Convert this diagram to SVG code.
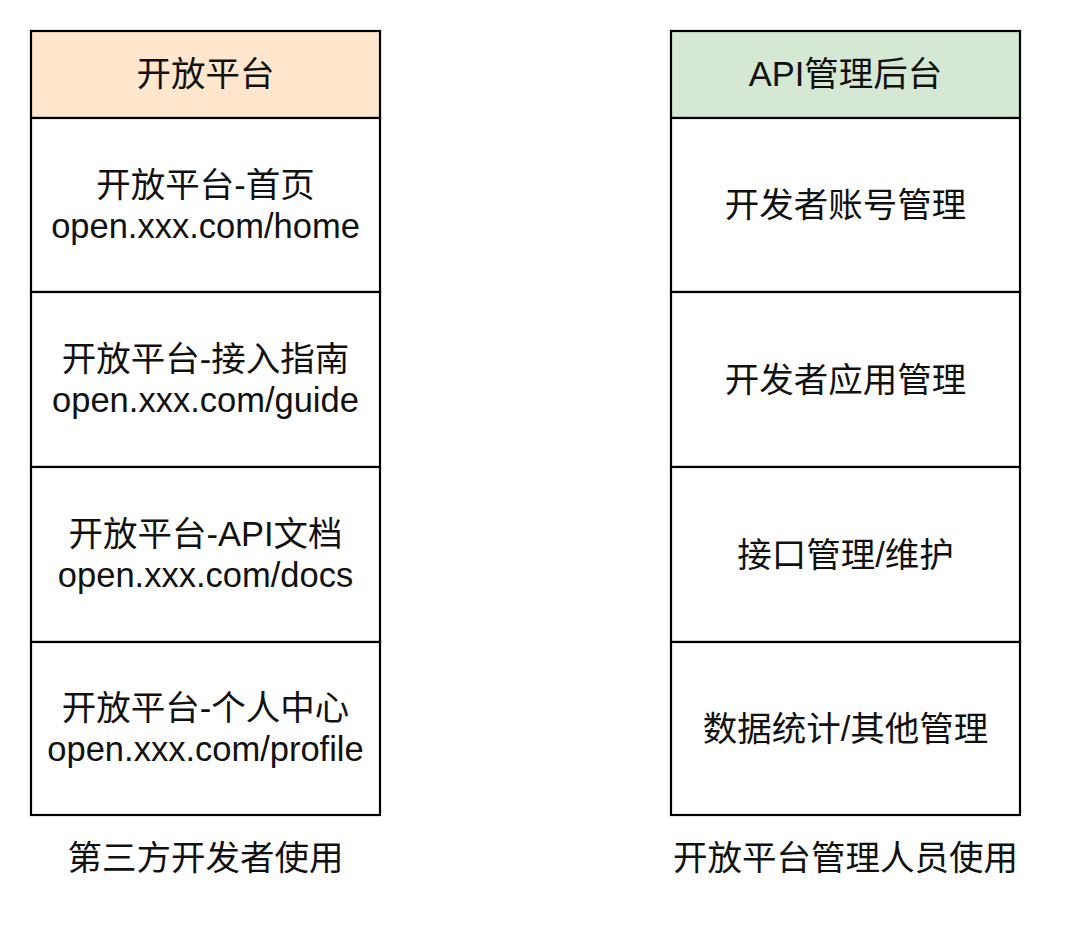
<svg xmlns="http://www.w3.org/2000/svg" width="1080" height="934" viewBox="0 0 1080 934">
<style>
.cell{fill:#ffffff;stroke:#000000;stroke-width:2.2}
.t{font-family:"Liberation Sans","Noto Sans CJK SC",sans-serif;font-size:34.5px;fill:#111111;text-anchor:middle}
</style>
<rect width="1080" height="934" fill="#ffffff"/>
<g id="left">
  <g id="left-header"><rect x="31" y="31" width="349" height="87" fill="#ffe6cc" stroke="#000" stroke-width="2.2"/><text class="t" x="205.5" y="86">开放平台</text></g>
  <g id="left-home"><rect class="cell" x="31" y="118" width="349" height="174"/><text class="t" x="205.5" y="197">开放平台-首页</text><text class="t" x="205.5" y="238">open.xxx.com/home</text></g>
  <g id="left-guide"><rect class="cell" x="31" y="292" width="349" height="175"/><text class="t" x="205.5" y="371">开放平台-接入指南</text><text class="t" x="205.5" y="412">open.xxx.com/guide</text></g>
  <g id="left-docs"><rect class="cell" x="31" y="467" width="349" height="175"/><text class="t" x="205.5" y="546">开放平台-API文档</text><text class="t" x="205.5" y="587">open.xxx.com/docs</text></g>
  <g id="left-profile"><rect class="cell" x="31" y="642" width="349" height="173"/><text class="t" x="205.5" y="720">开放平台-个人中心</text><text class="t" x="205.5" y="761">open.xxx.com/profile</text></g>
  <g id="left-caption"><text class="t" x="205.5" y="870">第三方开发者使用</text></g>
</g>
<g id="right">
  <g id="right-header"><rect x="671" y="31" width="349" height="87" fill="#d5e8d4" stroke="#000" stroke-width="2.2"/><text class="t" x="845.5" y="86">API管理后台</text></g>
  <g id="right-account"><rect class="cell" x="671" y="118" width="349" height="174"/><text class="t" x="845.5" y="217">开发者账号管理</text></g>
  <g id="right-app"><rect class="cell" x="671" y="292" width="349" height="175"/><text class="t" x="845.5" y="392">开发者应用管理</text></g>
  <g id="right-api"><rect class="cell" x="671" y="467" width="349" height="175"/><text class="t" x="845.5" y="567">接口管理/维护</text></g>
  <g id="right-data"><rect class="cell" x="671" y="642" width="349" height="173"/><text class="t" x="845.5" y="741">数据统计/其他管理</text></g>
  <g id="right-caption"><text class="t" x="845.5" y="870">开放平台管理人员使用</text></g>
</g>
<g id="connectors"></g>
</svg>
